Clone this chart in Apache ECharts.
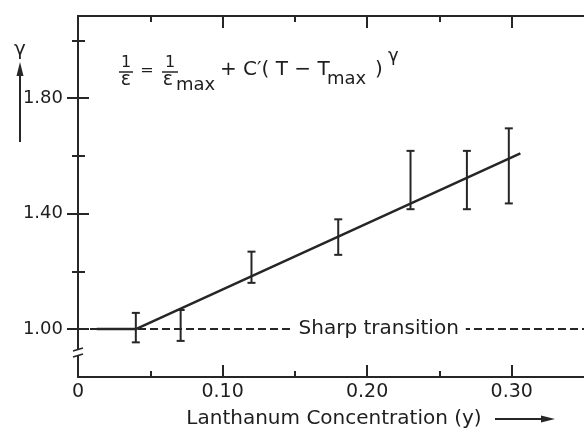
<!DOCTYPE html>
<html>
<head>
<meta charset="utf-8">
<script src="https://cdn.jsdelivr.net/npm/echarts@6/dist/echarts.min.js"></script>
<style>
  html, body { margin: 0; padding: 0; background: #fff; }
  #chart { width: 584px; height: 429px; }
</style>
</head>
<body>
<div id="chart"></div>
<script>
// error bars
const errX    = [0.040, 0.071, 0.120, 0.180, 0.230, 0.269, 0.298];
const errLow  = [0.954, 0.959, 1.160, 1.257, 1.415, 1.415, 1.435];
const errHigh = [1.056, 1.066, 1.268, 1.380, 1.617, 1.617, 1.695];

// fitted line (flat part, then rising)
const fitX = [0.013, 0.040, 0.306];
const fitY = [1.000, 1.000, 1.608];

// sharp transition reference line
const sharpX = [0.0, 0.35];
const sharpY = [1.0, 1.0];
const sharpLabelX = 0.208;

// ticks
const xLabelValues = [0, 0.1, 0.2, 0.3];
const xMajor = [0.1, 0.2, 0.3];
const xMinor = [0.05, 0.15, 0.25];
const yMajor = [1.0, 1.4, 1.8];
const yMinor = [1.2, 1.6, 2.0];

const ink = '#262626';
const txt = '#1e1e1e';
const font = 'DejaVu Sans';

function xAxisDef(pos, ticks, len, withLine, withLabel) {
    return {
        type: 'value', position: pos, min: 0, max: 0.35,
        axisLine: { show: withLine, lineStyle: { color: ink, width: 2 } },
        axisTick: { show: true, inside: true, length: len, customValues: ticks, lineStyle: { color: ink, width: 2 } },
        axisLabel: withLabel ? {
            show: true, customValues: xLabelValues, margin: 6,
            color: txt, fontFamily: font, fontSize: 19,
            formatter: v => v === 0 ? '0' : v.toFixed(2)
        } : { show: false },
        splitLine: { show: false }
    }
}
function yAxisDef(pos, ticks, len, withLine, withLabel) {
    return {
        type: 'value', position: pos, min: 0.834, max: 2.084,
        axisLine: { show: withLine, lineStyle: { color: ink, width: 2 } },
        axisTick: { show: true, inside: true, length: len, customValues: ticks, lineStyle: { color: ink, width: 2 } },
        axisLabel: withLabel ? {
            show: true, customValues: yMajor, margin: 15,
            color: txt, fontFamily: font, fontSize: 18,
            formatter: v => v.toFixed(2)
        } : { show: false },
        splitLine: { show: false }
    }
}

let myChart = echarts.init(document.getElementById('chart'), null, { renderer: 'canvas' })
let option = {
    backgroundColor: '#fff',
    animation: false,
    grid: { left: 78, right: -1, top: 16, bottom: 52 },
    xAxis: [
        xAxisDef('bottom', xMajor, 12, true, true),
        xAxisDef('bottom', xMinor, 6, false, false),
        xAxisDef('top', xMajor, 12, true, false),
        xAxisDef('top', xMinor, 6, false, false)
    ],
    yAxis: [
        yAxisDef('left', yMajor, 11, true, true),
        yAxisDef('left', yMinor, 7, false, false),
        yAxisDef('right', yMajor, 11, true, false),
        yAxisDef('right', yMinor, 6, false, false)
    ],
    series: [
        {
            name: 'sharp', type: 'line', symbol: 'none', z: 2,
            data: sharpX.map((x, i) => [x, sharpY[i]]),
            lineStyle: { color: ink, width: 2, type: [8, 4] }
        },
        {
            name: 'label', type: 'scatter', symbolSize: 0, z: 5,
            itemStyle: { opacity: 1 },
            data: [[sharpLabelX, 1.0]],
            label: {
                show: true, position: 'inside', formatter: 'Sharp transition',
                color: txt, fontFamily: font, fontSize: 20,
                backgroundColor: '#fff', padding: [2, 7]
            }
        },
        {
            name: 'fit', type: 'line', symbol: 'none', z: 6,
            data: fitX.map((x, i) => [x, fitY[i]]),
            lineStyle: { color: ink, width: 2.5 }
        },
        {
            name: 'error', type: 'custom', z: 7,
            data: errX.map((x, i) => [x, errLow[i], errHigh[i]]),
            renderItem: function (params, api) {
                let lo = api.coord([api.value(0), api.value(1)])
                let hi = api.coord([api.value(0), api.value(2)])
                let w = 4
                let st = { stroke: ink, lineWidth: 2 }
                return {
                    type: 'group',
                    children: [
                        { type: 'line', shape: { x1: lo[0], y1: lo[1], x2: hi[0], y2: hi[1] }, style: st },
                        { type: 'line', shape: { x1: lo[0] - w, y1: lo[1], x2: lo[0] + w, y2: lo[1] }, style: st },
                        { type: 'line', shape: { x1: hi[0] - w, y1: hi[1], x2: hi[0] + w, y2: hi[1] }, style: st }
                    ]
                }
            }
        }
    ],
    graphic: [
        // y axis break
        { type: 'rect', shape: { x: 74, y: 350, width: 8, height: 5 }, style: { fill: '#fff' }, z: 100 },
        { type: 'line', shape: { x1: 73, y1: 351, x2: 83, y2: 348 }, style: { stroke: ink, lineWidth: 1.5 }, z: 101 },
        { type: 'line', shape: { x1: 73, y1: 357, x2: 83, y2: 354 }, style: { stroke: ink, lineWidth: 1.5 }, z: 101 },
        // y axis name with arrow
        { type: 'text', x: 20, y: 50, style: { text: 'γ', font: '20px "DejaVu Sans"', fill: txt, align: 'center', verticalAlign: 'middle' } },
        { type: 'line', shape: { x1: 20, y1: 142, x2: 20, y2: 70 }, style: { stroke: ink, lineWidth: 2 } },
        { type: 'polygon', shape: { points: [[20, 62], [16.5, 76], [23.5, 76]] }, style: { fill: ink } },
        // x axis name with arrow
        { type: 'text', x: 334, y: 419, style: { text: 'Lanthanum Concentration (y)', font: '20px "DejaVu Sans"', fill: txt, align: 'center', verticalAlign: 'middle' } },
        { type: 'line', shape: { x1: 495, y1: 419, x2: 545, y2: 419 }, style: { stroke: ink, lineWidth: 2 } },
        { type: 'polygon', shape: { points: [[555, 419], [541, 415.5], [541, 422.5]] }, style: { fill: ink } },
        // formula
        { type: 'text', x: 126, y: 63, style: { text: '1', font: '16px "DejaVu Sans"', fill: txt, align: 'center', verticalAlign: 'middle' } },
        { type: 'line', shape: { x1: 119, y1: 72, x2: 133, y2: 72 }, style: { stroke: ink, lineWidth: 1.5 } },
        { type: 'text', x: 126, y: 80, style: { text: 'ε', font: '19px "DejaVu Sans"', fill: txt, align: 'center', verticalAlign: 'middle' } },
        { type: 'text', x: 147, y: 71, style: { text: '=', font: '16px "DejaVu Sans"', fill: txt, align: 'center', verticalAlign: 'middle' } },
        { type: 'text', x: 170, y: 63, style: { text: '1', font: '16px "DejaVu Sans"', fill: txt, align: 'center', verticalAlign: 'middle' } },
        { type: 'line', shape: { x1: 162, y1: 72, x2: 178, y2: 72 }, style: { stroke: ink, lineWidth: 1.5 } },
        { type: 'text', x: 168, y: 80, style: { text: 'ε', font: '19px "DejaVu Sans"', fill: txt, align: 'center', verticalAlign: 'middle' } },
        { type: 'text', x: 176, y: 85, style: { text: 'max', font: '18px "DejaVu Sans"', fill: txt, align: 'left', verticalAlign: 'middle' } },
        { type: 'text', x: 220, y: 70, style: { text: '+ C′( T − T', font: '20px "DejaVu Sans"', fill: txt, align: 'left', verticalAlign: 'middle' } },
        { type: 'text', x: 327, y: 79, style: { text: 'max', font: '18px "DejaVu Sans"', fill: txt, align: 'left', verticalAlign: 'middle' } },
        { type: 'text', x: 375, y: 70, style: { text: ')', font: '20px "DejaVu Sans"', fill: txt, align: 'left', verticalAlign: 'middle' } },
        { type: 'text', x: 388, y: 56, style: { text: 'γ', font: '18px "DejaVu Sans"', fill: txt, align: 'left', verticalAlign: 'middle' } }
    ]
};
myChart.setOption(option);
</script>
</body>
</html>
